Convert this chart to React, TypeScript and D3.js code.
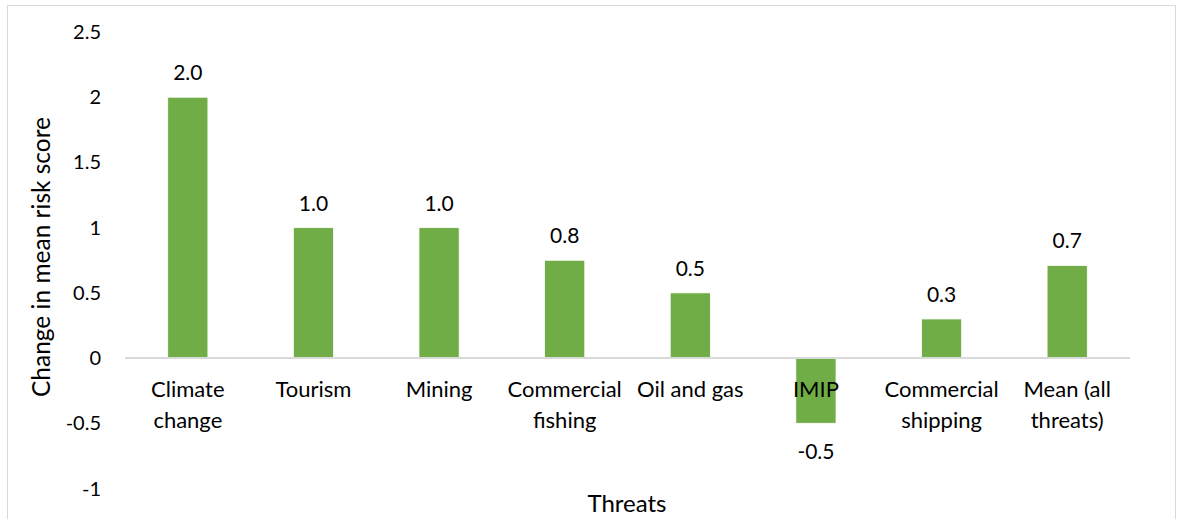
import React, { useEffect, useRef } from "react";
import * as d3 from "d3";

const categories = [
  ["Climate", "change"],
  ["Tourism"],
  ["Mining"],
  ["Commercial", "fishing"],
  ["Oil and gas"],
  ["IMIP"],
  ["Commercial", "shipping"],
  ["Mean (all", "threats)"],
];
const values = [2.0, 1.0, 1.0, 0.75, 0.5, -0.5, 0.3, 0.71];
const yTicks = [-1, -0.5, 0, 0.5, 1, 1.5, 2, 2.5];

const W = 1178;
const H = 519;
const FONT = "Lato, 'Open Sans', sans-serif";

export default function App() {
  const ref = useRef<SVGSVGElement>(null);

  useEffect(() => {
    const svg = d3.select(ref.current);
    svg.selectAll("*").remove();

    // chart frame
    svg.append("rect")
      .attr("x", 7.5).attr("y", 5.5)
      .attr("width", 1168).attr("height", 530)
      .attr("fill", "#fff").attr("stroke", "#d9d9d9");

    const left = 125, right = 1130;
    const x = d3.scaleBand<number>()
      .domain(d3.range(values.length))
      .range([left, right])
      .paddingInner(0.68).paddingOuter(0.34);
    const y = d3.scaleLinear().domain([-1, 2.5]).range([488.5, 32]);

    // y tick labels (no axis line in the original)
    svg.append("g").selectAll("text")
      .data(yTicks)
      .enter().append("text")
      .attr("x", 101)
      .attr("y", d => y(d))
      .attr("dy", "0.35em")
      .attr("text-anchor", "end")
      .attr("font-family", FONT).attr("font-size", 20)
      .attr("fill", "#000")
      .text(d => String(d));

    // bars
    svg.append("g").selectAll("rect")
      .data(values)
      .enter().append("rect")
      .attr("x", (d, i) => x(i)!)
      .attr("width", x.bandwidth())
      .attr("y", d => Math.min(y(d), y(0)))
      .attr("height", d => Math.abs(y(d) - y(0)))
      .attr("fill", "#70ad47")
      .attr("stroke", "#fff").attr("stroke-width", 0.8);

    // zero line
    svg.append("line")
      .attr("x1", left).attr("x2", right)
      .attr("y1", y(0)).attr("y2", y(0))
      .attr("stroke", "#d9d9d9").attr("stroke-width", 2);

    // value labels
    svg.append("g").selectAll("text")
      .data(values)
      .enter().append("text")
      .attr("x", (d, i) => x(i)! + x.bandwidth() / 2)
      .attr("y", d => d >= 0 ? y(d) - 17 : y(d) + 36)
      .attr("text-anchor", "middle")
      .attr("font-family", FONT).attr("font-size", 21)
      .attr("fill", "#000")
      .text(d => d3.format(".1f")(d).replace("\u2212", "-"));

    // category labels
    const cat = svg.append("g").selectAll("text")
      .data(categories)
      .enter().append("text")
      .attr("text-anchor", "middle")
      .attr("font-family", FONT).attr("font-size", 22)
      .attr("fill", "#000");
    cat.each(function (lines, i) {
      d3.select(this).selectAll("tspan")
        .data(lines)
        .enter().append("tspan")
        .attr("x", x(i)! + x.bandwidth() / 2)
        .attr("y", (l, j) => 397 + j * 31)
        .text(l => l);
    });

    // axis titles
    svg.append("text")
      .attr("transform", `translate(50,257) rotate(-90)`)
      .attr("text-anchor", "middle")
      .attr("font-family", FONT).attr("font-size", 24.5)
      .attr("fill", "#000")
      .text("Change in mean risk score");

    svg.append("text")
      .attr("x", 627).attr("y", 512)
      .attr("text-anchor", "middle")
      .attr("font-family", FONT).attr("font-size", 24)
      .attr("fill", "#000")
      .text("Threats");
  }, []);

  return (
    <svg ref={ref} width={W} height={H}
      style={{ position: "absolute", left: 0, top: 0, background: "#fff" }} />
  );
}
